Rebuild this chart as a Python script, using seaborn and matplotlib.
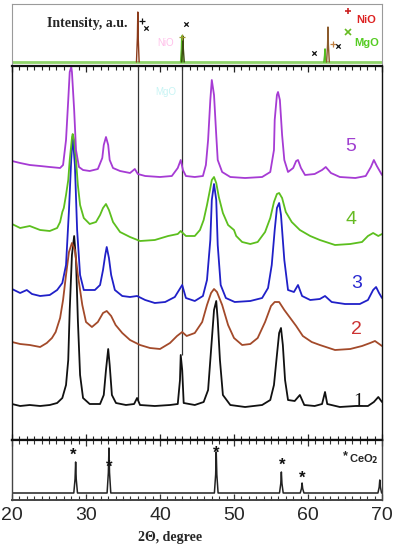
import numpy as np
import pandas as pd
import matplotlib
matplotlib.use("Agg")
import matplotlib.pyplot as plt
import seaborn as sns
from matplotlib.ticker import MultipleLocator

sns.set_style("white")
plt.rcParams['font.family'] = ['Liberation Sans', 'DejaVu Sans']

# ---------------- data (2-theta in degrees, intensity in arbitrary units) -------------
tt_5 = [20.0, 21.1, 22.4, 23.8, 25.1, 26.5, 26.9, 27.3, 27.6, 27.8, 28.0, 28.1, 28.4, 28.65, 29.05,
        29.6, 30.5, 31.6, 32.2, 32.4, 32.7, 33.0, 33.2, 33.65, 34.6, 35.95, 36.6, 37.0, 38.0, 40.0,
        41.6, 42.4, 42.8, 43.1, 43.5, 44.7, 45.8, 46.2, 46.5, 46.8, 47.0, 47.3, 47.6, 47.8, 48.4,
        49.5, 51.5, 53.8, 54.9, 55.4, 55.5, 55.8, 55.95, 56.2, 56.5, 56.8, 57.3, 58.0, 58.4, 58.65,
        59.05, 59.6, 60.9, 61.9, 62.4, 63.1, 64.3, 66.4, 67.8, 68.5, 68.9, 69.3, 70.0]
int_5 = [279, 277, 275, 274, 273, 272, 275, 300, 340, 368, 373, 368, 330, 290, 273,
         270, 269, 271, 282, 295, 303, 295, 280, 272, 269, 267, 271, 266, 264, 263,
         264, 272, 280, 270, 264, 263, 264, 275, 300, 340, 360, 345, 305, 280, 268,
         263, 262, 263, 268, 290, 320, 345, 348, 340, 305, 280, 268, 272, 279, 280,
         272, 265, 266, 270, 273, 267, 263, 262, 264, 273, 280, 274, 265]

tt_4 = [20.0, 21.1, 22.4, 23.8, 25.1, 26.1, 26.5, 26.8, 27.0, 27.3, 27.6, 27.8, 28.1, 28.2, 28.4,
        28.65, 28.9, 29.2, 29.7, 30.5, 31.35, 31.9, 32.3, 32.7, 33.1, 33.65, 34.6, 35.95, 37.3, 39.3,
        41.1, 42.4, 42.8, 43.5, 44.7, 45.4, 45.9, 46.35, 46.8, 47.0, 47.3, 47.6, 47.95, 48.5, 49.2,
        50.0, 50.3, 51.1, 52.2, 53.2, 54.2, 54.9, 55.4, 55.8, 56.1, 56.5, 57.0, 57.8, 58.9, 60.3,
        61.6, 63.65, 65.7, 67.3, 68.1, 68.8, 69.5, 70.0]
int_4 = [216, 212, 214, 210, 209, 212, 218, 228, 232, 245, 260, 280, 302, 306, 300,
         280, 255, 235, 222, 216, 218, 225, 232, 236, 230, 218, 208, 203, 199, 200,
         204, 206, 209, 204, 204, 210, 220, 235, 252, 260, 263, 257, 243, 227, 215,
         210, 204, 198, 196, 198, 208, 222, 238, 246, 247, 242, 228, 218, 210, 204,
         200, 195, 196, 198, 204, 207, 204, 206]

tt_3 = [20.0, 21.1, 22.0, 22.7, 23.8, 25.1, 26.1, 26.8, 27.3, 27.7, 28.0, 28.2, 28.5, 28.8, 29.2,
        29.7, 30.5, 31.2, 31.9, 32.3, 32.6, 32.8, 33.1, 33.4, 33.9, 34.9, 35.95, 36.9, 38.0, 39.3,
        40.7, 42.0, 43.0, 43.5, 44.7, 45.8, 46.35, 46.8, 47.0, 47.3, 47.6, 47.8, 48.2, 48.9, 50.1,
        52.2, 53.8, 54.6, 55.1, 55.5, 55.8, 56.1, 56.35, 56.8, 57.3, 58.1, 58.65, 59.2, 60.3, 61.6,
        62.3, 63.2, 65.0, 67.0, 68.1, 68.8, 69.2, 69.6, 70.0]
int_3 = [151, 147, 150, 146, 144, 145, 150, 157, 175, 230, 280, 304, 275, 210, 165,
         150, 150, 150, 155, 170, 185, 193, 182, 165, 150, 144, 143, 144, 140, 137,
         138, 143, 155, 142, 139, 144, 160, 200, 240, 256, 240, 195, 155, 142, 138,
         139, 142, 152, 175, 210, 232, 237, 225, 180, 150, 148, 155, 144, 140, 141,
         144, 138, 136, 136, 140, 150, 153, 147, 142]

tt_2 = [20.0, 21.1, 22.4, 23.8, 24.7, 25.4, 25.9, 26.5, 26.9, 27.3, 27.7, 28.1, 28.5, 28.9, 29.5,
        30.0, 30.8, 31.6, 32.3, 32.8, 33.4, 34.0, 34.9, 35.95, 37.3, 38.65, 40.0, 41.35, 42.3, 43.0,
        43.6, 44.7, 45.7, 46.35, 46.9, 47.3, 47.7, 48.4, 49.2, 50.0, 51.1, 52.2, 53.2, 54.2, 55.0,
        55.5, 56.1, 56.8, 57.6, 58.4, 59.3, 60.5, 61.6, 63.65, 65.7, 67.3, 68.4, 69.05, 70.0]
int_2 = [98, 96, 95, 93, 97, 102, 108, 122, 140, 165, 188, 197, 190, 165, 135,
         118, 113, 118, 127, 129, 124, 115, 107, 100, 95, 92, 91, 97, 104, 108,
         104, 107, 118, 135, 147, 151, 148, 135, 115, 102, 95, 96, 102, 118, 134,
         138, 138, 130, 122, 114, 104, 98, 95, 90, 91, 94, 97, 99, 94]

tt_1 = [20.0, 21.1, 22.4, 23.8, 25.1, 26.1, 26.8, 27.3, 27.6, 27.8, 28.1, 28.4, 28.65, 28.9, 29.2,
        29.6, 30.5, 31.9, 32.4, 32.7, 33.0, 33.2, 33.5, 34.05, 35.4, 36.5, 36.9, 37.3, 39.3, 41.35,
        42.4, 42.7, 42.8, 43.0, 43.2, 44.7, 45.9, 46.5, 46.9, 47.3, 47.6, 47.8, 48.1, 48.5, 49.5,
        51.5, 53.8, 54.9, 55.4, 55.8, 56.1, 56.35, 56.6, 56.9, 57.3, 58.2, 58.9, 59.5, 60.9, 61.9,
        62.3, 62.6, 64.3, 66.4, 68.1, 68.9, 69.5, 70.0]
int_1 = [36, 34, 35, 34, 35, 37, 42, 55, 80, 130, 185, 204, 180, 120, 65,
         42, 36, 36, 45, 70, 91, 75, 45, 37, 35, 36, 42, 35, 34, 35,
         36, 60, 85, 70, 37, 35, 38, 50, 90, 130, 139, 120, 80, 45, 35,
         33, 35, 40, 55, 85, 107, 112, 95, 60, 40, 39, 45, 35, 34, 36,
         48, 36, 33, 34, 34, 38, 43, 38]

curve_labels = ["1", "2", "3", "4", "5"]
label_level = [38, 111, 157, 221, 294]
label_pos = [66.8, 66.6, 66.6, 65.8, 65.8]

# CeO2 reference (bottom panel)
ceo2_pos = [28.6, 33.1, 47.6, 56.4, 59.2, 69.7]
ceo2_int = [38, 52, 48, 28, 17, 20]
ceo2_star_pos = [28.3, 33.1, 47.6, 56.5, 59.2]
ceo2_star_int = [45, 33, 47, 35, 22]

# NiO / MgO reference (top panel)
nio_pos = [37.0, 43.1, 62.7]
nio_int = [54, 30, 39]
mgo_pos = [42.95, 62.3]
mgo_int = [30, 17]
plus_pos = [37.6, 43.0, 63.4]
plus_int = [45, 29, 22]
cross_pos = [38.1, 43.5, 60.8, 64.05]
cross_int = [38, 42, 13, 20]

# ------------------------------------------------------------------------------------
W, H = 394, 550
fig = plt.figure(figsize=(W / 100, H / 100), dpi=100)

def frac(x0, y0, x1, y1):
    return [x0 / W, 1 - y1 / H, (x1 - x0) / W, (y1 - y0) / H]

ax_top = fig.add_axes(frac(12, 4, 382, 66))
ax_mid = fig.add_axes(frac(12, 66, 382, 440))
ax_bot = fig.add_axes(frac(12, 440, 382, 500))

for ax in (ax_top, ax_mid, ax_bot):
    ax.set_xlim(20, 70)
    ax.set_facecolor("white")

# ---- top panel ----
ax_top.set_ylim(0, 62)
base = 4
def stick(pos, hts, width):
    xs, ys = [], []
    for p, h in zip(pos, hts):
        xs += [p - width, p - width * 0.3, p, p + width * 0.3, p + width]
        ys += [base, base + (h - base) * 0.5, h, base + (h - base) * 0.5, base]
    return xs, ys

ax_top.axhline(base, color="#8fd46a", lw=2.0, zorder=1)
for p, h, c in zip(nio_pos, nio_int, ["#8b3a1a", "#3d4a10", "#8b5a2b"]):
    xs, ys = stick([p], [h], 0.18)
    sns.lineplot(x=xs, y=ys, ax=ax_top, color=c, lw=1.0, sort=False, estimator=None, zorder=3)
for p, h in zip(mgo_pos, mgo_int):
    xs, ys = stick([p], [h], 0.15)
    sns.lineplot(x=xs, y=ys, ax=ax_top, color="#55bb22", lw=1.2, sort=False, estimator=None, zorder=2)

sns.scatterplot(x=plus_pos, y=plus_int, ax=ax_top, marker="+", s=18, color=["#111111", "#9a9a30", "#c08040"],
                linewidth=0.9, zorder=4)
sns.scatterplot(x=cross_pos, y=cross_int, ax=ax_top, marker="x", s=10, color="#111111",
                linewidth=0.9, zorder=4)
ax_top.text(24.7, 42, "Intensity, a.u.", family=["Liberation Serif"], fontweight="bold",
            fontsize=10, va="center", ha="left")
ax_top.plot([65.4], [55], marker="+", ms=5, color="#cc2222", mew=1.2)
ax_top.text(66.5, 46, "NiO", color="#dd2222", fontweight="bold", fontsize=8, va="center", ha="left")
ax_top.plot([65.4], [34], marker="x", ms=4, color="#66bb22", mew=1.2)
ax_top.text(66.3, 23, "MgO", color="#55cc22", fontweight="bold", fontsize=8, va="center", ha="left")
ax_top.text(40.7, 23, "NiO", color="#ffc0ea", fontsize=7, va="center", ha="center")
ax_top.set_xticks([])
ax_top.set_yticks([])
for s in ax_top.spines.values():
    s.set_color("#9a9a9a")
    s.set_linewidth(0.8)
ax_top.spines["bottom"].set_visible(False)

# ---- middle panel ----
ax_mid.set_ylim(0, 374)
curves = [(tt_1, int_1, "#111111"), (tt_2, int_2, "#a34a2a"), (tt_3, int_3, "#2020c8"),
          (tt_4, int_4, "#5cbf1e"), (tt_5, int_5, "#a63bd4")]
for x, y, c in curves:
    sns.lineplot(x=x, y=y, ax=ax_mid, color=c, lw=1.3, sort=False, estimator=None)
label_colors = ["#111111", "#cc3333", "#2a2ad0", "#66bb22", "#a040d0"]
for lab, lev, lx, c in zip(curve_labels, label_level, label_pos, label_colors):
    ax_mid.text(lx, lev, lab, color=c, fontsize=14, ha="center", va="center",
                family=["Liberation Serif"] if lab == "1" else ["Liberation Sans"])
ax_mid.vlines([37.0, 43.0], [40, 85], [374, 374], color="#333333", lw=0.9, zorder=1)
ax_mid.text(40.8, 348, "MgO", color="#c8f4f4", fontsize=7, ha="center", va="center")
ax_mid.set_yticks([])
ax_mid.xaxis.set_major_locator(MultipleLocator(10))
ax_mid.xaxis.set_minor_locator(MultipleLocator(1))
ax_mid.tick_params(axis="x", which="both", direction="in", top=True, bottom=True,
                   labelbottom=False, color="#222222")
ax_mid.tick_params(axis="x", which="major", length=4, width=0.9)
ax_mid.tick_params(axis="x", which="minor", length=3, width=0.8)
for s in ax_mid.spines.values():
    s.set_color("#111111")
    s.set_linewidth(1.0)
ax_mid.spines["top"].set_linewidth(1.6)
ax_mid.spines["bottom"].set_linewidth(1.6)

# ---- bottom panel ----
ax_bot.set_ylim(0, 60)
bx, by = [20.0], [7]
for p, h in zip(ceo2_pos, ceo2_int):
    bx += [p - 0.25, p - 0.08, p, p + 0.08, p + 0.25]
    by += [7, 7 + (h - 7) * 0.45, h, 7 + (h - 7) * 0.45, 7]
bx.append(70.0); by.append(7)
sns.lineplot(x=bx, y=by, ax=ax_bot, color="#222222", lw=1.1, sort=False, estimator=None)
for p, h in zip(ceo2_star_pos, ceo2_star_int):
    ax_bot.text(p, h, "*", fontsize=12, ha="center", va="center", fontweight="bold", color="#111111")
ax_bot.text(65.1, 44, "*", fontsize=9, ha="center", va="center", fontweight="bold")
ax_bot.text(65.6, 41, "CeO$_\\mathbf{2}$", fontsize=8, fontweight="bold", ha="left", va="center")
ax_bot.set_yticks([])
ax_bot.xaxis.set_major_locator(MultipleLocator(10))
ax_bot.xaxis.set_minor_locator(MultipleLocator(1))
ax_bot.tick_params(axis="x", which="both", direction="in", top=True, bottom=True, color="#333333")
ax_bot.tick_params(axis="x", which="major", length=4, width=0.9, labelsize=14, pad=5)
ax_bot.tick_params(axis="x", which="minor", length=3, width=0.8)
for s in ax_bot.spines.values():
    s.set_color("#444444")
    s.set_linewidth(1.0)
ax_bot.spines["top"].set_linewidth(1.6)
ax_bot.spines["top"].set_color("#111111")
ax_bot.spines["bottom"].set_linewidth(1.4)

fig.text(170 / W, 1 - 538 / H, "2\u0398, degree", family=["Liberation Serif"], fontweight="bold",
         fontsize=10, ha="center", va="center")

fig.savefig("out.png", dpi=100)
